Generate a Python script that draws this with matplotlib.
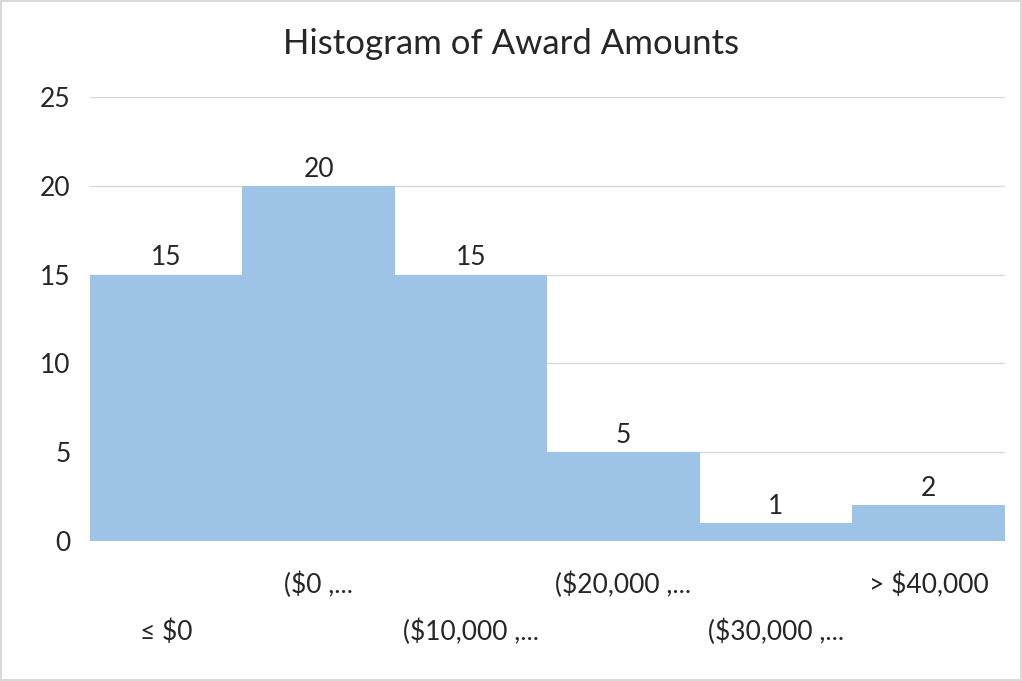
import matplotlib.pyplot as plt
import numpy as np

# histogram bins (Excel style category labels) and counts
bins = ["≤ $0", "($0 ,...", "($10,000 ,...", "($20,000 ,...", "($30,000 ,...", "> $40,000"]
counts = [15, 20, 15, 5, 1, 2]
yticks = [0, 5, 10, 15, 20, 25]

plt.rcParams['font.family'] = ['Lato', 'DejaVu Sans']

fig = plt.figure(figsize=(10.22, 6.81), dpi=100)
fig.patch.set_edgecolor('#D9D9D9')
fig.patch.set_linewidth(1.5)
ax = fig.add_axes([0.088, 0.2056, 0.895, 0.652])

x = np.arange(len(bins))
bars = ax.bar(x, counts, width=1.0, color='#9DC3E6', zorder=2)
for b, c in zip(bars, counts):
    ax.annotate(str(c), (b.get_x() + b.get_width() / 2, c), xytext=(0, 3),
                textcoords='offset points', ha='center', va='bottom',
                fontsize=19, color='#262626')

ax.set_xlim(-0.5, len(bins) - 0.5)
ax.set_ylim(0, 25)
ax.set_yticks(yticks)
ax.tick_params(axis='y', length=0, pad=14, labelsize=19, labelcolor='#262626')
ax.set_xticks([])
ax.grid(axis='y', color='#D9D9D9', linewidth=1, zorder=0)
for s in ax.spines.values():
    s.set_visible(False)

# staggered category labels like Excel
tr = ax.get_xaxis_transform()
for i, lab in enumerate(bins):
    yy = -0.099 if i % 2 else -0.205
    ax.text(i, yy, lab, transform=tr, ha='center', va='center',
            fontsize=19, color='#262626')

fig.suptitle("Histogram of Award Amounts", y=1 - 44 / 681, va='center',
             fontsize=25, color='#262626')

fig.savefig('out.png', dpi=100)
